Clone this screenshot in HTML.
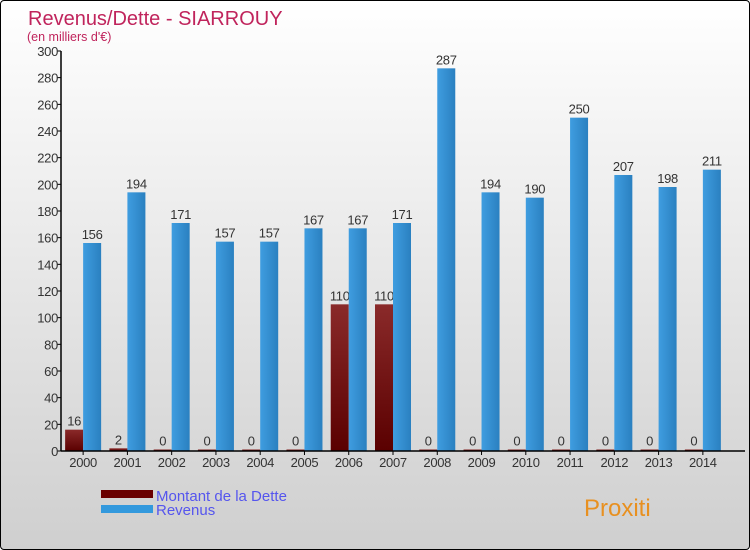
<!DOCTYPE html>
<html><head><meta charset="utf-8">
<style>
body{margin:0;}
#wrap{width:748px;height:548px;border:1px solid #000;border-radius:4px;background:linear-gradient(#ffffff,#cfcfcf);position:relative;overflow:hidden;font-family:"Liberation Sans",sans-serif;}
svg{position:absolute;left:0;top:0;font-family:"Liberation Sans",sans-serif}
</style></head><body>
<div id="wrap">
<svg id="c" width="750" height="550"></svg>
</div>
<script>
const years=["2000","2001","2002","2003","2004","2005","2006","2007","2008","2009","2010","2011","2012","2013","2014"];
const debt=[16,2,0,0,0,0,110,110,0,0,0,0,0,0,0];
const revenue=[156,194,171,157,157,167,167,171,287,194,190,250,207,198,211];
const yTicks=[0,20,40,60,80,100,120,140,160,180,200,220,240,260,280,300];
const NS="http://www.w3.org/2000/svg";
const svg=document.getElementById('c');
const x0=60,x1=724,yb=450,yt=50,ymax=300;
const bw=(x1-x0)/years.length;
const y=v=>yb-(v/ymax)*(yb-yt);
const cx=i=>x0+bw*(i+0.5);
function mk(t,a,txt){const e=document.createElementNS(NS,t);for(const k in a)e.setAttribute(k,a[k]);if(txt!==undefined)e.textContent=txt;svg.appendChild(e);return e;}
const defs=mk('defs',{});
defs.innerHTML='<linearGradient id="gd" x1="0" x2="0" y1="0" y2="1"><stop offset="0" stop-color="#8a2a2a"/><stop offset="1" stop-color="#5a0000"/></linearGradient><linearGradient id="gr" x1="0" x2="1" y1="0" y2="0"><stop offset="0" stop-color="#3f9de0"/><stop offset="1" stop-color="#2a80c0"/></linearGradient>';
let e=mk('text',{x:27,y:24,'font-size':20,fill:'#c0245c'},'Revenus/Dette - SIARROUY');

e=mk('text',{x:26,y:40,'font-size':12.5,fill:'#c0245c'},"(en milliers d'€)");

yTicks.forEach(v=>{
 e=mk('line',{x1:x0-4,x2:x0,y1:y(v),y2:y(v),stroke:'#000'});
 
 e=mk('text',{x:x0-3,y:y(v)+5,'font-size':13,fill:'#333','text-anchor':'end','letter-spacing':'-0.3'},v);
 
});
years.forEach((yr,i)=>{
 const c=cx(i);
 const dh=Math.max(yb-y(debt[i]),1.5);
 e=mk('rect',{x:c-18,y:yb-dh,width:18,height:dh,fill:'url(#gd)'});
 
 e=mk('text',{x:c-9,y:yb-dh-4,'font-size':13,fill:'#333','text-anchor':'middle','letter-spacing':'-0.3'},debt[i]);
 
 e=mk('rect',{x:c,y:y(revenue[i]),width:18,height:yb-y(revenue[i]),fill:'url(#gr)'});
 
 e=mk('text',{x:c+9,y:y(revenue[i])-4,'font-size':13,fill:'#333','text-anchor':'middle','letter-spacing':'-0.3'},revenue[i]);
 
 e=mk('line',{x1:c,x2:c,y1:yb,y2:yb+4,stroke:'#000'});
 
 e=mk('text',{x:c,y:yb+16,'font-size':13,fill:'#333','text-anchor':'middle','letter-spacing':'-0.3'},yr);
 
});
e=mk('line',{x1:x0,x2:x0,y1:yt,y2:yb,stroke:'#000','stroke-width':1.5});

e=mk('line',{x1:x0,x2:x1+20,y1:yb,y2:yb,stroke:'#000','stroke-width':1.5});

e=mk('rect',{x:100,y:489,width:52,height:8,fill:'#6a0000'});

e=mk('text',{x:155,y:500,'font-size':15,fill:'#5555ee'},'Montant de la Dette');

e=mk('rect',{x:100,y:504,width:52,height:8,fill:'#3399dd'});

e=mk('text',{x:155,y:514,'font-size':15,fill:'#5555ee'},'Revenus');

e=mk('text',{x:583,y:515,'font-size':24,fill:'#e89020'},'Proxiti');

</script>
</body></html>
